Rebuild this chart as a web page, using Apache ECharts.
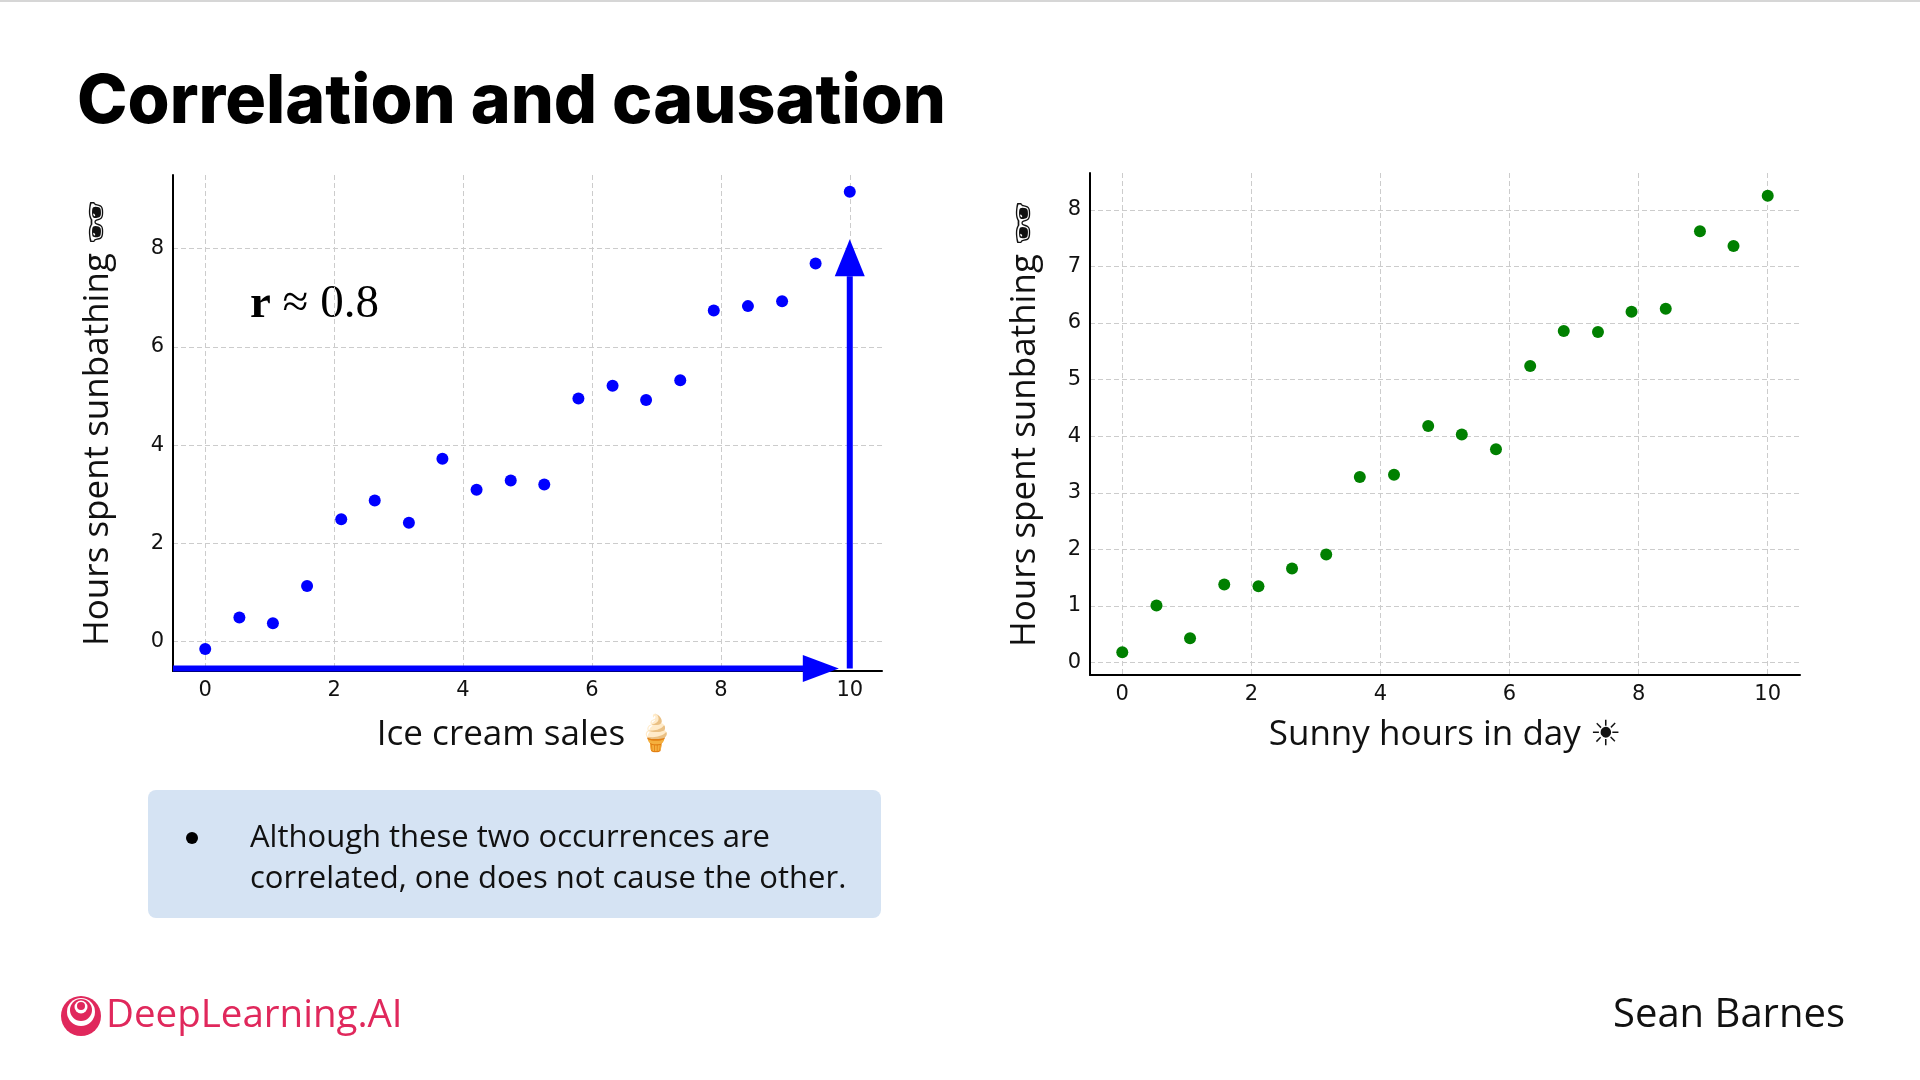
<!DOCTYPE html>
<html>
<head>
<meta charset="utf-8">
<title>Correlation and causation</title>
<script src="https://cdn.jsdelivr.net/npm/echarts@6/dist/echarts.min.js"></script>
<style>
  html, body { margin: 0; padding: 0; background: #ffffff; }
  #chart { width: 1920px; height: 1080px; }
</style>
</head>
<body>
<div id="chart"></div>
<script>
// values
const iceCreamSales = [0, 0.53, 1.05, 1.58, 2.11, 2.63, 3.16, 3.68, 4.21, 4.74, 5.26, 5.79, 6.32, 6.84, 7.37, 7.89, 8.42, 8.95, 9.47, 10];
const sunbathingVsIceCream = [-0.15, 0.49, 0.37, 1.13, 2.49, 2.87, 2.42, 3.72, 3.09, 3.28, 3.2, 4.95, 5.21, 4.92, 5.32, 6.74, 6.83, 6.93, 7.7, 9.16];

const sunnyHours = [0, 0.53, 1.05, 1.58, 2.11, 2.63, 3.16, 3.68, 4.21, 4.74, 5.26, 5.79, 6.32, 6.84, 7.37, 7.89, 8.42, 8.95, 9.47, 10];
const sunbathingVsSun = [0.18, 1.01, 0.43, 1.38, 1.35, 1.66, 1.91, 3.28, 3.32, 4.18, 4.03, 3.77, 5.24, 5.86, 5.84, 6.2, 6.25, 7.62, 7.36, 8.25];

const xTicks = [0, 2, 4, 6, 8, 10];
const leftYTicks = [0, 2, 4, 6, 8];
const rightYTicks = [0, 1, 2, 3, 4, 5, 6, 7, 8];

// blue arrows on the left plot: shaft start/end, then tip
const horizArrowShaft = [[-0.5, -0.55], [9.29, -0.55]];
const horizArrowTip = [[9.83, -0.55]];
const vertArrowShaft = [[10, -0.55], [10, 7.44]];
const vertArrowTip = [[10, 8.19]];

const noteLines = [
  'Although these two occurrences are',
  'correlated, one does not cause the other.'
];

const TEXT_FONT = '"Open Sans", "DejaVu Sans", sans-serif';
const TICK_FONT = '"DejaVu Sans", sans-serif';
const BLUE = '#0000ff';
const GREEN = '#008000';
const BRAND = '#e0285c';

function pairs(xs, ys) {
  return xs.map((x, i) => [x, ys[i]]);
}

function makeXAxis(gridIndex, nameGap, name) {
  return {
    type: 'value',
    gridIndex: gridIndex,
    min: -0.5,
    max: 10.5,
    name: name,
    nameLocation: 'middle',
    nameGap: nameGap,
    nameTextStyle: { fontFamily: TEXT_FONT, fontSize: 35, color: '#111' },
    axisLine: { show: true, onZero: false, lineStyle: { color: '#000', width: 2 } },
    axisTick: { show: false, customValues: xTicks },
    axisLabel: { customValues: xTicks, margin: 9, fontFamily: TICK_FONT, fontSize: 21, color: '#111' },
    splitLine: { show: true, lineStyle: { color: '#cccccc', width: 1, type: [5, 3] } }
  };
}

function makeYAxis(gridIndex, min, max, ticks, nameGap) {
  return {
    type: 'value',
    gridIndex: gridIndex,
    min: min,
    max: max,
    name: 'Hours spent sunbathing 🕶',
    nameLocation: 'middle',
    nameRotate: 90,
    nameGap: nameGap,
    nameTextStyle: { fontFamily: TEXT_FONT, fontSize: 35, color: '#111' },
    axisLine: { show: true, onZero: false, lineStyle: { color: '#000', width: 2 } },
    axisTick: { show: false, customValues: ticks },
    axisLabel: { customValues: ticks, margin: 9, fontFamily: TICK_FONT, fontSize: 21, color: '#111' },
    splitLine: { show: true, lineStyle: { color: '#cccccc', width: 1, type: [5, 3] } }
  };
}

const chart = echarts.init(document.getElementById('chart'), null, { renderer: 'canvas' });

const option = {
  backgroundColor: '#ffffff',
  animation: false,
  grid: [
    { left: 173, top: 175, width: 709, height: 496 },
    { left: 1090, top: 173, width: 710, height: 502 }
  ],
  xAxis: [
    makeXAxis(0, 47, 'Ice cream sales 🍦'),
    makeXAxis(1, 43, 'Sunny hours in day ☀')
  ],
  yAxis: [
    makeYAxis(0, -0.6, 9.5, leftYTicks, 57),
    makeYAxis(1, -0.22, 8.65, rightYTicks, 47)
  ],
  series: [
    {
      type: 'scatter',
      xAxisIndex: 0,
      yAxisIndex: 0,
      data: pairs(iceCreamSales, sunbathingVsIceCream),
      symbolSize: 12,
      itemStyle: { color: BLUE, opacity: 1 },
      z: 3
    },
    {
      type: 'line',
      xAxisIndex: 0,
      yAxisIndex: 0,
      data: horizArrowShaft,
      showSymbol: false,
      lineStyle: { color: BLUE, width: 6 },
      silent: true,
      z: 4
    },
    {
      type: 'line',
      xAxisIndex: 0,
      yAxisIndex: 0,
      data: vertArrowShaft,
      showSymbol: false,
      lineStyle: { color: BLUE, width: 6 },
      silent: true,
      z: 4
    },
    {
      type: 'scatter',
      xAxisIndex: 0,
      yAxisIndex: 0,
      data: horizArrowTip,
      symbol: 'path://M0,0L10,5L0,10Z',
      symbolKeepAspect: false,
      symbolSize: [36, 27],
      symbolOffset: [-18, 0],
      itemStyle: { color: BLUE, opacity: 1 },
      silent: true,
      z: 4
    },
    {
      type: 'scatter',
      xAxisIndex: 0,
      yAxisIndex: 0,
      data: vertArrowTip,
      symbol: 'triangle',
      symbolSize: [30, 37],
      symbolOffset: [0, 18.5],
      itemStyle: { color: BLUE, opacity: 1 },
      silent: true,
      z: 4
    },
    {
      type: 'scatter',
      xAxisIndex: 1,
      yAxisIndex: 1,
      data: pairs(sunnyHours, sunbathingVsSun),
      symbolSize: 12,
      itemStyle: { color: GREEN, opacity: 1 },
      z: 3
    }
  ],
  graphic: [
    { type: 'rect', shape: { x: 0, y: 0, width: 1920, height: 2 }, style: { fill: '#d6d6d6' } },
    {
      type: 'text', x: 77, y: 103,
      style: {
        text: 'Correlation and causation', fill: '#000',
        font: '800 68px Inter, "Open Sans", sans-serif', verticalAlign: 'middle'
      }
    },
    {
      type: 'text', x: 250, y: 305,
      style: {
        text: '{b|r} ≈ 0.8', verticalAlign: 'middle',
        font: '47px "Liberation Serif", "DejaVu Serif", serif', fill: '#000',
        rich: { b: { font: 'bold 47px "Liberation Serif", "DejaVu Serif", serif', fill: '#000' } }
      }
    },
    {
      type: 'rect', shape: { x: 148, y: 790, width: 733, height: 128, r: 8 },
      style: { fill: '#d5e3f3' }
    },
    { type: 'circle', shape: { cx: 192, cy: 838, r: 6 }, style: { fill: '#000' } },
    {
      type: 'text', x: 250, y: 838,
      style: { text: noteLines[0], font: '31px ' + TEXT_FONT, fill: '#111', verticalAlign: 'middle' }
    },
    {
      type: 'text', x: 250, y: 879,
      style: { text: noteLines[1], font: '31px ' + TEXT_FONT, fill: '#111', verticalAlign: 'middle' }
    },
    // DeepLearning.AI logo
    { type: 'circle', shape: { cx: 81, cy: 1016, r: 20 }, style: { fill: BRAND } },
    { type: 'circle', shape: { cx: 81, cy: 1012, r: 14 }, style: { fill: '#ffffff' } },
    { type: 'circle', shape: { cx: 81, cy: 1010, r: 11 }, style: { fill: BRAND } },
    { type: 'circle', shape: { cx: 81, cy: 1007, r: 6.5 }, style: { fill: '#ffffff' } },
    { type: 'circle', shape: { cx: 81, cy: 1006, r: 4 }, style: { fill: BRAND } },
    {
      type: 'text', x: 106, y: 1016,
      style: { text: 'DeepLearning.AI', font: '500 38.5px ' + TEXT_FONT, fill: BRAND, verticalAlign: 'middle' }
    },
    {
      type: 'text', x: 1613, y: 1016,
      style: { text: 'Sean Barnes', font: '40px ' + TEXT_FONT, fill: '#111', verticalAlign: 'middle' }
    }
  ]
};

chart.setOption(option);
</script>
</body>
</html>
